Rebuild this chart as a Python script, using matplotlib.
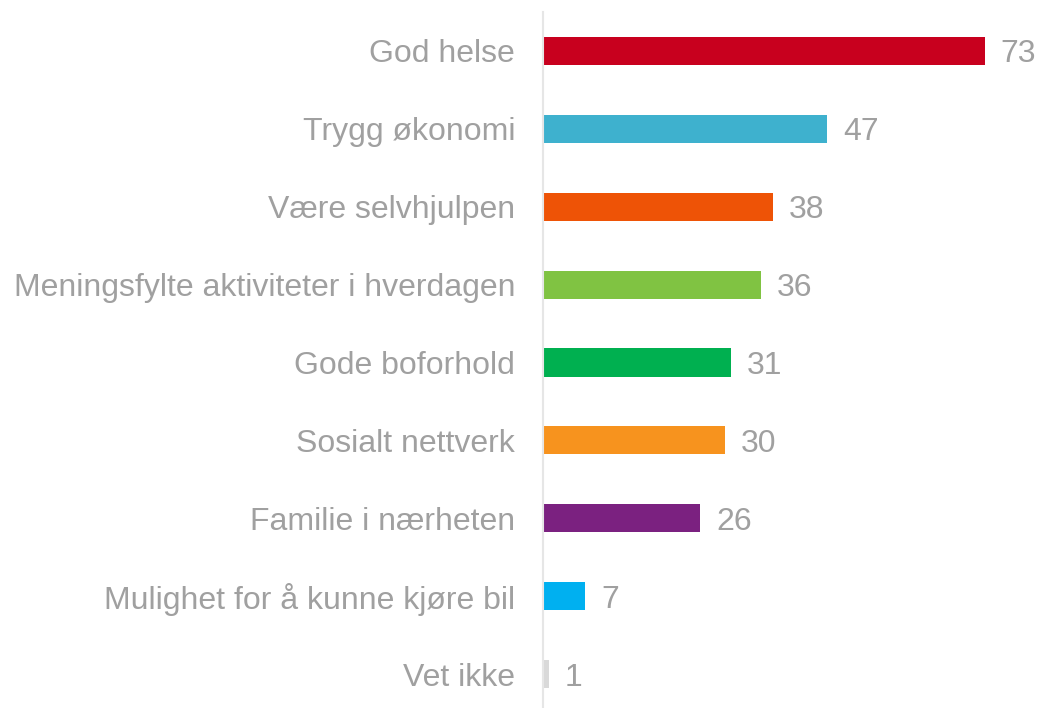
import matplotlib
matplotlib.use("Agg")
import matplotlib.pyplot as plt

categories = ["God helse", "Trygg økonomi", "Være selvhjulpen",
              "Meningsfylte aktiviteter i hverdagen", "Gode boforhold",
              "Sosialt nettverk", "Familie i nærheten",
              "Mulighet for å kunne kjøre bil", "Vet ikke"]
values = [73, 47, 38, 36, 31, 30, 26, 7, 1]
colors = ["#C8001E", "#3EB1CE", "#EE5306", "#80C342", "#00B050",
          "#F7931E", "#7B2180", "#00B0F0", "#D9D9D9"]

plt.rcParams['font.family'] = ['Liberation Sans', 'DejaVu Sans']
W, H = 1044, 708
fig = plt.figure(figsize=(W/100, H/100), dpi=100)
ax_left = 543 / W
ax_bottom = 0
ax_top = 1 - 12 / H
ax = fig.add_axes([ax_left, ax_bottom, 1 - ax_left, ax_top - ax_bottom])

pos = list(range(len(categories)))
ax.barh(pos, values, height=0.36, color=colors)
px_per_unit = 6.05
ax.set_xlim(0, (W - 543) / px_per_unit)
ax.set_ylim(8.436, -0.5)

text_color = "#A0A0A0"
for p, v in zip(pos, values):
    ax.annotate(str(v), (v, p), xytext=(16, 0), textcoords="offset pixels",
                va="center_baseline", ha="left", fontsize=23, color=text_color)

ax.set_yticks(pos)
ax.set_yticklabels(categories, fontsize=23, color=text_color,
                   va="center_baseline")
ax.tick_params(axis="y", length=0, pad=20)
ax.set_xticks([])
for s in ["top", "right", "bottom"]:
    ax.spines[s].set_visible(False)
ax.spines["left"].set_color("#E6E6E6")
ax.spines["left"].set_linewidth(1.5)

fig.savefig("out.png", dpi=100)
